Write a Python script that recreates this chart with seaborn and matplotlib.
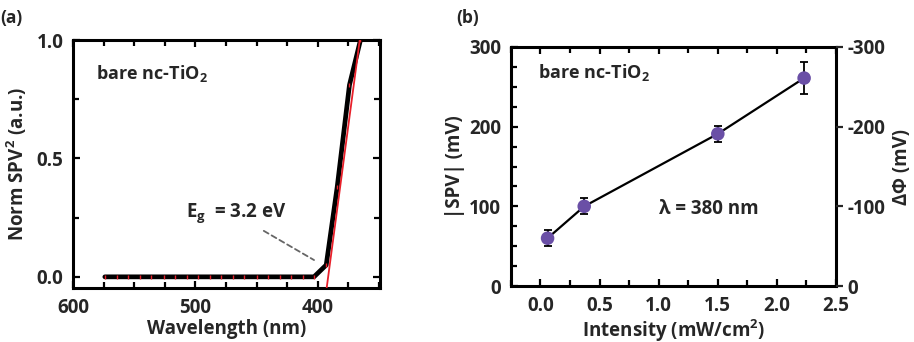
import numpy as np
import pandas as pd
import matplotlib
matplotlib.use("Agg")
import matplotlib.pyplot as plt
import seaborn as sns
from matplotlib.ticker import MultipleLocator, FixedLocator, FuncFormatter

# ---------------- data ----------------
# panel (a): normalized SPV^2 vs wavelength
wavelength = [574, 564, 555, 545, 536, 526, 517, 507, 498, 488, 479, 469,
              460, 450, 441, 431, 422, 412, 403, 393, 384, 374, 365]
norm_spv2 = [0, 0, 0, 0, 0, 0, 0, 0, 0, 0, 0, 0,
             0, 0, 0, 0, 0, 0, 0, 0.05, 0.38, 0.81, 1.0]
fit_wl = [394.0, 364.3]
fit_y = [-0.10, 1.05]

# panel (b): |SPV| vs intensity
intensity = [0.06, 0.37, 1.50, 2.23]
spv = [60, 100, 191, 261]
spv_err = [10, 10, 10, 20]

sns.set_theme(style="ticks")
plt.rcParams["font.family"] = ["Open Sans", "DejaVu Sans"]
plt.rcParams["font.weight"] = "bold"
plt.rcParams["mathtext.fontset"] = "custom"
plt.rcParams["mathtext.rm"] = "Open Sans:bold"
plt.rcParams["mathtext.bf"] = "Open Sans:bold"
plt.rcParams["mathtext.it"] = "Open Sans:bold"
plt.rcParams["mathtext.default"] = "rm"

fig = plt.figure(figsize=(9.14, 3.42), dpi=100)
axA = fig.add_axes([0.0799, 0.158, 0.3359, 0.725])
axB = fig.add_axes([0.559, 0.1637, 0.3557, 0.6989])

TL = 13.5
AL = 13.5
LW = 2.2

def style(ax):
    for s in ax.spines.values():
        s.set_linewidth(LW)
        s.set_color("black")
        s.set_visible(True)
    ax.tick_params(which="both", direction="in", top=True, right=True,
                   width=1.6, color="black", labelsize=TL, pad=7)
    ax.tick_params(which="major", length=5)
    ax.tick_params(which="minor", length=4)
    for lab in ax.get_xticklabels() + ax.get_yticklabels():
        lab.set_fontweight("bold")

# ---------------- panel (a) ----------------
dfA = pd.DataFrame({"wl": wavelength, "y": norm_spv2})
sns.lineplot(data=dfA, x="wl", y="y", ax=axA, color="black", lw=3.4,
             sort=False, zorder=3)
axA.plot(wavelength, norm_spv2, ls="none", marker="|", ms=3, mew=1.0,
         color="#e8202a", zorder=4)
sns.lineplot(x=fit_wl, y=fit_y, ax=axA, color="#e8202a", lw=1.3, zorder=5)
axA.set_xlim(600, 349)
axA.set_ylim(-0.047, 1.0)
axA.xaxis.set_major_locator(FixedLocator([600, 500, 400]))
axA.xaxis.set_minor_locator(MultipleLocator(25))
axA.yaxis.set_major_locator(FixedLocator([0.0, 0.5, 1.0]))
axA.yaxis.set_minor_locator(MultipleLocator(0.25))
axA.yaxis.set_major_formatter(FuncFormatter(lambda v, p: f"{v:.1f}"))
axA.set_xlabel("Wavelength (nm)", fontsize=AL, fontweight="bold", labelpad=1)
axA.set_ylabel("Norm SPV$^2$ (a.u.)", fontsize=AL, fontweight="bold", labelpad=5)
style(axA)
axA.text(581, 0.86, "bare nc-TiO$_2$", fontsize=13, fontweight="bold",
         va="center", ha="left")
axA.annotate("", xy=(401, 0.065), xytext=(446, 0.20),
             arrowprops=dict(arrowstyle="-", ls=(0, (3, 2)), color="#666666", lw=1.3))
axA.text(508, 0.27, "E$_g$  = 3.2 eV", fontsize=13.5, fontweight="bold",
         va="center", ha="left")

# ---------------- panel (b) ----------------
dfB = pd.DataFrame({"I": intensity, "spv": spv})
sns.lineplot(data=dfB, x="I", y="spv", ax=axB, color="black", lw=1.6, zorder=2)
axB.errorbar(intensity, spv, yerr=spv_err, fmt="none", ecolor="black",
             elinewidth=1.3, capsize=3, capthick=1.3, zorder=3)
sns.scatterplot(data=dfB, x="I", y="spv", ax=axB, color="#6a4fa6", s=95,
                edgecolor="none", zorder=4)
axB.set_xlim(-0.25, 2.5)
axB.set_ylim(0, 300)
axB.xaxis.set_major_locator(MultipleLocator(0.5))
axB.xaxis.set_minor_locator(MultipleLocator(0.25))
axB.xaxis.set_major_formatter(FuncFormatter(lambda v, p: f"{v:.1f}"))
axB.yaxis.set_major_locator(MultipleLocator(100))
axB.yaxis.set_minor_locator(MultipleLocator(25))
axB.set_xlabel("Intensity (mW/cm$^2$)", fontsize=AL, fontweight="bold", labelpad=1)
axB.set_ylabel("|SPV| (mV)", fontsize=AL, fontweight="bold", labelpad=3)
style(axB)
axB.tick_params(axis="y", right=True, which="both")
axB.text(-0.02, 268, "bare nc-TiO$_2$", fontsize=13, fontweight="bold",
         va="center", ha="left")
axB.text(1.0, 97, "λ = 380 nm", fontsize=13.5, fontweight="bold",
         va="center", ha="left")

axR = axB.twinx()
axR.set_ylim(0, 300)
axR.yaxis.set_major_locator(MultipleLocator(100))
axR.yaxis.set_major_formatter(FuncFormatter(lambda v, p: "0" if v == 0 else f"-{int(v)}"))
axR.tick_params(axis="y", direction="out", length=5, width=1.6,
                labelsize=TL, pad=3)
for lab in axR.get_yticklabels():
    lab.set_fontweight("bold")
for s in axR.spines.values():
    s.set_visible(False)
axR.set_ylabel("ΔΦ (mV)", fontsize=AL, fontweight="bold", labelpad=5)

fig.text(0.0, 0.975, "(a)", fontsize=12.5, fontweight="bold", va="top", ha="left")
fig.text(0.499, 0.975, "(b)", fontsize=12.5, fontweight="bold", va="top", ha="left")

fig.savefig("out.png", dpi=100)
